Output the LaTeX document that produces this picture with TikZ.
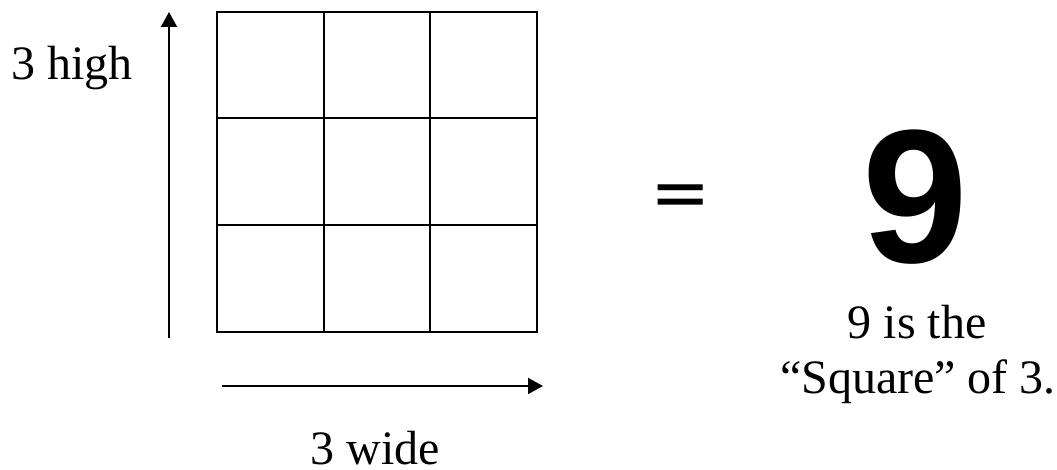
\documentclass[tikz,border=0pt]{standalone}
\usepackage{fontspec}
\setmainfont{Liberation Serif}
\newfontfamily\arialfont{Liberation Sans}
\newfontfamily\dejavufont{DejaVu Sans}
\usetikzlibrary{arrows.meta}
\begin{document}
\begin{tikzpicture}[x=1pt,y=-1pt,
  gridline/.style={line width=2.4pt},
  axisarrow/.style={line width=2pt,-{Triangle[length=15pt,width=16pt]}},
  lbl/.style={font=\fontsize{48}{56}\selectfont,inner sep=0pt},
]
\useasboundingbox (0,0) rectangle (1057,470);
% grid
\draw[gridline] (217,12) rectangle (537,332);
\draw[gridline] (324,12) -- (324,332);
\draw[gridline] (430,12) -- (430,332);
\draw[gridline] (217,118) -- (537,118);
\draw[gridline] (217,225) -- (537,225);
% arrows
\coordinate (vs) at (169,338);
\coordinate (ve) at (169,12);
\coordinate (hs) at (222,386);
\coordinate (he) at (543,386);
\draw[axisarrow] (vs) -- (ve);
\draw[axisarrow] (hs) -- (he);
% labels
\node[lbl,anchor=base west] (high) at (11,80) {3 high};
\node[lbl,anchor=base] (wide) at (375,464) {3 wide};
\node[inner sep=0pt,anchor=base,font=\dejavufont\fontsize{72}{80}\selectfont] (eq) at (681,218) {=};
\node[inner sep=0pt,anchor=base,font=\arialfont\bfseries\fontsize{190}{210}\selectfont] (nine) at (915,262) {9};
\node[lbl,anchor=base] (t1) at (917,338) {9 is the};
\node[lbl,anchor=base] (t2) at (918,393) {“Square” of 3.};
\end{tikzpicture}
\end{document}
